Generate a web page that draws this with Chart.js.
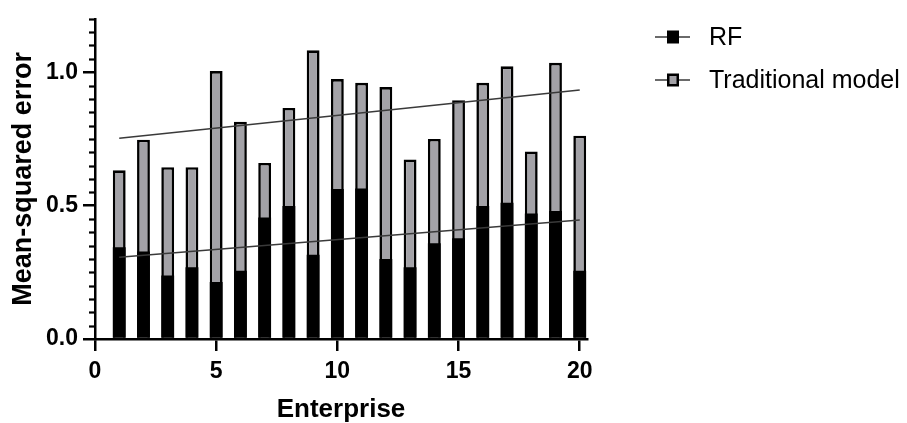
<!DOCTYPE html>
<html>
<head>
<meta charset="utf-8">
<script src="https://cdn.jsdelivr.net/npm/chart.js@4.4.1/dist/chart.umd.min.js"></script>
<style>
  html, body { margin: 0; padding: 0; background: #ffffff; }
  #wrap { width: 907px; height: 423px; }
</style>
</head>
<body>
<div id="wrap"><canvas id="chart" width="907" height="423"></canvas></div>
<script>
// Enterprises on the horizontal axis
const enterprises = [1, 2, 3, 4, 5, 6, 7, 8, 9, 10, 11, 12, 13, 14, 15, 16, 17, 18, 19, 20];

// Mean-squared error of each model per enterprise
const rfError = [0.344, 0.328, 0.238, 0.269, 0.214, 0.256, 0.455, 0.498, 0.316, 0.562,
                 0.564, 0.300, 0.269, 0.359, 0.378, 0.498, 0.511, 0.470, 0.480, 0.256];
const traditionalError = [0.632, 0.747, 0.644, 0.644, 1.004, 0.814, 0.660, 0.866, 1.082, 0.974,
                          0.960, 0.944, 0.673, 0.750, 0.895, 0.960, 1.022, 0.703, 1.035, 0.762];

// Linear trend lines (endpoints at the first and last enterprise)
const trendX = [1, 20];
const rfTrend = [0.306, 0.446];
const traditionalTrend = [0.752, 0.933];

// Axis tick labels
const xTickValues = [0, 5, 10, 15, 20];
const yTickValues = [0, 0.5, 1.0];

const seriesNames = ['RF', 'Traditional model'];
const FONT = 'Liberation Sans, Arial, Helvetica, sans-serif';
const GREY = '#a3a2a7';

const toPoints = (xs, ys) => xs.map((x, i) => ({ x: x, y: ys[i] }));

// Short minor ticks on the value axis, every 0.05
const minorTicks = {
  id: 'minorTicks',
  afterDraw(chart) {
    const y = chart.scales.y;
    const c = chart.ctx;
    c.save();
    c.strokeStyle = '#000';
    c.lineWidth = 2.2;
    for (let k = 1; k <= 24; k++) {
      if (k % 10 === 0) continue;
      const p = Math.round(y.getPixelForValue(k * 0.05)) + 0.5;
      c.beginPath();
      c.moveTo(y.right - 6, p);
      c.lineTo(y.right, p);
      c.stroke();
    }
    c.restore();
  }
};

// Legend with a line-and-box marker for each series
const sideLegend = {
  id: 'sideLegend',
  afterDraw(chart) {
    const c = chart.ctx;
    const rows = [37, 80];
    c.save();
    seriesNames.forEach((name, i) => {
      const cy = rows[i];
      c.strokeStyle = '#6a6a6a';
      c.lineWidth = 2;
      c.beginPath();
      c.moveTo(655, cy);
      c.lineTo(690, cy);
      c.stroke();
      c.fillStyle = '#000';
      c.fillRect(667, cy - 6.5, 12, 13);
      if (i === 1) {
        c.fillStyle = GREY;
        c.fillRect(669.5, cy - 4, 7, 8);
      }
      c.fillStyle = '#000';
      c.font = '25px ' + FONT;
      c.textBaseline = 'middle';
      c.textAlign = 'left';
      c.fillText(name, 709, cy + 1);
    });
    c.restore();
  }
};

const tickFont = { family: FONT, size: 23, weight: 'bold' };

new Chart(document.getElementById('chart'), {
  type: 'bar',
  data: {
    datasets: [
      {
        type: 'line', label: 'RF trend', data: toPoints(trendX, rfTrend),
        borderColor: '#3a3a3a', borderWidth: 1.5, pointRadius: 0, order: 0
      },
      {
        type: 'line', label: 'Traditional trend', data: toPoints(trendX, traditionalTrend),
        borderColor: '#3a3a3a', borderWidth: 1.5, pointRadius: 0, order: 0
      },
      {
        label: seriesNames[0], data: toPoints(enterprises, rfError),
        backgroundColor: '#000000', borderWidth: 0, order: 1,
        grouped: false, barPercentage: 0.53, categoryPercentage: 1
      },
      {
        label: seriesNames[1], data: toPoints(enterprises, traditionalError),
        backgroundColor: GREY, borderColor: '#000000', borderWidth: 2.6, order: 2,
        grouped: false, barPercentage: 0.53, categoryPercentage: 1
      }
    ]
  },
  options: {
    responsive: false,
    animation: false,
    devicePixelRatio: 1,
    layout: { padding: { top: 14, right: 320, bottom: 0, left: 0 } },
    plugins: { legend: { display: false }, tooltip: { enabled: false } },
    scales: {
      x: {
        type: 'linear', min: 0, max: 20.3, offset: false,
        afterBuildTicks: (s) => { s.ticks = xTickValues.map(v => ({ value: v })); },
        afterFit: (s) => { s.height = 84; },
        ticks: { font: tickFont, color: '#000', padding: 7, maxRotation: 0, autoSkip: false },
        grid: { display: true, offset: false, drawOnChartArea: false, drawTicks: true, tickLength: 12, color: '#000', lineWidth: 2.5 },
        border: { display: true, color: '#000', width: 2.5 },
        title: {
          display: true, text: 'Enterprise', color: '#000', padding: 0,
          font: { family: FONT, size: 26, weight: 'bold', lineHeight: 1 }
        }
      },
      y: {
        type: 'linear', min: 0, max: 1.2,
        afterBuildTicks: (s) => { s.ticks = yTickValues.map(v => ({ value: v })); },
        afterFit: (s) => { s.width = 95; },
        ticks: { font: tickFont, color: '#000', padding: 5, callback: (v) => Number(v).toFixed(1) },
        grid: { display: true, offset: false, drawOnChartArea: false, drawTicks: true, tickLength: 12, color: '#000', lineWidth: 2.5 },
        border: { display: true, color: '#000', width: 2.5 },
        title: {
          display: true, text: 'Mean-squared error', color: '#000', padding: { top: 7, bottom: 0 },
          font: { family: FONT, size: 27, weight: 'bold', lineHeight: 1.2 }
        }
      }
    }
  },
  plugins: [minorTicks, sideLegend]
});
</script>
</body>
</html>
